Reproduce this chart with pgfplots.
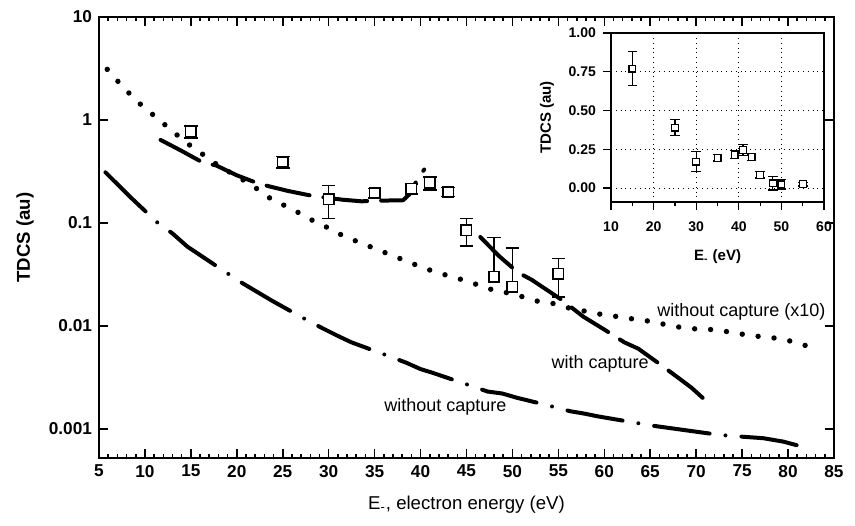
\documentclass[border=0pt]{standalone}
\usepackage{fontspec}
\setmainfont{Liberation Sans}
\usepackage{pgfplots}
\pgfplotsset{compat=1.18}

\begin{document}
\begin{tikzpicture}[x=1pt,y=1pt]
\path[use as bounding box] (-49.5,-33.5) rectangle (378,229);
\begin{axis}[
  name=main, at={(0,0)}, anchor=south west,
  scale only axis, width=367.5pt, height=220.5pt,
  xmin=5, xmax=85, ymode=log, ymin=5.2e-4, ymax=10,
  xtick distance=5, minor x tick num=4,
  ytick={0.001,0.01,0.1,1,10}, yticklabels={0.001,0.01,0.1,1,10},
  yminorticks=false,
  tick align=inside, major tick length=4.5pt, minor tick length=2.2pt,
  axis line style={line width=1.2pt}, every tick/.style={black, line width=0.8pt},
  tick label style={font=\bfseries\fontsize{8.6}{10}\selectfont},
  /pgf/number format/assume math mode=true,
  xlabel={E\textsubscript{-}, electron energy (eV)},
  ylabel={\bfseries TDCS (au)},
  label style={font=\fontsize{9.3}{11}\selectfont},
  xlabel style={at={(axis description cs:0.5,-0.1066)}, anchor=center},
  ylabel style={at={(axis description cs:-0.1007,0.5)}, anchor=center},
  clip=false,
]
% without capture (x10)
\addplot[black, line width=2.7pt, line cap=round, dash pattern=on 0pt off 8pt] coordinates {
(5.9,3.1) (7.5,2.14) (9.2,1.5) (11,1.1) (12.7,0.82) (14.4,0.61) (16.2,0.47) (18,0.36)
(19.8,0.29) (21.6,0.235) (23.3,0.18) (24.9,0.152) (26.7,0.126) (28.3,0.105) (30,0.089)
(31.8,0.073) (33.5,0.064) (35.3,0.055) (37,0.048) (38.6,0.042) (40.5,0.036) (42.3,0.032)
(44,0.029) (45.7,0.026) (47.3,0.023) (49,0.0214) (50.8,0.0195) (52.7,0.0174) (54.3,0.0166)
(56,0.015) (57.7,0.014) (59.5,0.013) (61.4,0.0123) (63,0.0117) (64.6,0.0112) (66.4,0.0104)
(68.2,0.0097) (70.1,0.0093) (71.7,0.0092) (73.3,0.0088) (75,0.0083) (76.8,0.0079)
(78.6,0.0076) (80.3,0.0071) (82,0.0064)};
% without capture
\addplot[black, line width=2pt, line cap=round, dash pattern=on 28pt off 8pt on 0pt off 8pt] coordinates {
(5.7,0.31) (8.5,0.175) (11.4,0.1) (13,0.079) (14.6,0.059) (18.4,0.035) (20.6,0.026) (23.8,0.0176)
(27,0.0122) (29.4,0.0094) (31.1,0.0079) (32.5,0.0069) (35.5,0.0055) (38.4,0.0044) (40,0.0038)
(41.3,0.0035) (44,0.0029) (47.3,0.0023) (48.9,0.0022) (50.5,0.002) (53.5,0.00172)
(56.3,0.00148) (57.9,0.0014) (59.3,0.00132) (62.5,0.00118) (65.3,0.00107) (68.4,0.00098)
(72.6,0.00087) (74,0.00085) (77.3,0.00081) (79.5,0.00075) (81.8,0.00066)};
% with capture
\addplot[black, line width=2pt, line cap=round, dash pattern=on 22pt off 7pt] coordinates {
(11.7,0.64) (14,0.5) (16.2,0.39) (17.8,0.36) (20,0.29) (22.2,0.244) (23.4,0.228) (25.5,0.205)
(27.7,0.187) (29.3,0.178) (31.5,0.168) (33.6,0.162) (34.8,0.164) (36.5,0.165) (38.1,0.166)
(38.8,0.19) (39.7,0.27) (40.4,0.33)};
\addplot[black, line width=2pt, line cap=round, dash pattern=on 22pt off 7pt] coordinates {
(46.5,0.073) (48.5,0.048) (50.6,0.033) (52.1,0.028) (55.4,0.0178) (57.7,0.0123) (60,0.0092)
(62.2,0.0069) (63.7,0.006) (65.8,0.0044) (67.9,0.0032) (69.5,0.0025) (70.7,0.002)};
% experiment
\addplot[black, only marks, mark=square*, mark size=2.6pt,
  mark options={fill=white, draw=black, line width=0.8pt},
  error bars/.cd, y dir=both, y explicit,
  error bar style={line width=0.8pt},
  error mark options={rotate=90, mark size=3.4pt, line width=0.8pt}]
  table[x=x, y=y, y error plus=e, y error minus=e] {
x y e
15 0.77 0.10
25 0.39 0.05
30 0.17 0.06
35 0.195 0.02
39 0.215 0.025
41 0.245 0.035
43 0.20 0.02
45 0.085 0.025
55 0.032 0.013
};
\addplot[black, only marks, mark=square*, mark size=2.6pt,
  mark options={fill=white, draw=black, line width=0.8pt},
  error bars/.cd, y dir=plus, y explicit,
  error bar style={line width=0.8pt},
  error mark options={rotate=90, mark size=3.4pt, line width=0.8pt}]
  table[x=x, y=y, y error=e] {
x y e
48 0.030 0.042
50 0.024 0.033
};
\node[anchor=west, font=\fontsize{9}{10.5}\selectfont] at (axis cs:65,0.0137) {without capture (x10)};
\node[anchor=west, font=\fontsize{9}{10.5}\selectfont] at (axis cs:53.5,0.0043) {with capture};
\node[anchor=west, font=\fontsize{9}{10.5}\selectfont] at (axis cs:35.3,0.00164) {without capture};
\end{axis}

\begin{axis}[
  at={(256pt,128pt)}, anchor=south west,
  scale only axis, width=106.5pt, height=84.5pt,
  xmin=10, xmax=60, ymin=-0.09, ymax=1,
  xtick={10,20,...,60}, minor x tick num=1,
  ytick={0,0.25,0.5,0.75,1}, yticklabels={0.00,0.25,0.50,0.75,1.00},
  xtick pos=left, ytick pos=left, tick align=outside,
  major tick length=4pt, minor tick length=2pt,
  grid=major, grid style={black, dotted, line width=0.5pt},
  axis line style={line width=0.6pt}, every tick/.style={black, line width=0.6pt},
  tick label style={font=\bfseries\fontsize{7}{8}\selectfont},
  xticklabel style={yshift=-2.5pt},
  /pgf/number format/assume math mode=true,
  xlabel={\bfseries E\textsubscript{-} (eV)},
  ylabel={\bfseries TDCS (au)},
  label style={font=\fontsize{7.5}{9}\selectfont},
  xlabel style={at={(axis description cs:0.5,-0.325)}, anchor=center},
  ylabel style={at={(axis description cs:-0.30,0.5)}, anchor=center},
  axis background/.style={fill=white},
]
\addplot[black, only marks, mark=square*, mark size=1.7pt,
  mark options={fill=white, draw=black, line width=0.6pt},
  error bars/.cd, y dir=both, y explicit,
  error bar style={line width=0.6pt},
  error mark options={rotate=90, mark size=2.4pt, line width=0.6pt}]
  table[x=x, y=y, y error=e] {
x y e
15 0.77 0.11
25 0.39 0.05
30 0.17 0.065
35 0.195 0.02
39 0.215 0.025
41 0.245 0.035
43 0.20 0.02
45 0.085 0.02
48 0.030 0.042
50 0.024 0.03
55 0.025 0.012
};
\end{axis}
\end{tikzpicture}
\end{document}
